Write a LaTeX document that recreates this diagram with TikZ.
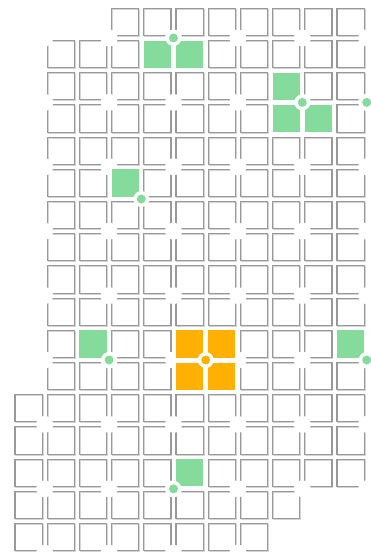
\documentclass[tikz,border=0pt]{standalone}
\definecolor{cellgreen}{HTML}{84DB9C}
\definecolor{cellorange}{HTML}{FFB000}
\definecolor{edgegray}{HTML}{999999}
\definecolor{shadowgray}{HTML}{D4D4D4}
\tikzset{
  cellbox/.style={draw=edgegray, line width=1.1pt},
  cellshadow/.style={draw=shadowgray, line width=1.1pt},
  blob/.style={fill=white},
  greencell/.style={fill=cellgreen},
  orangecell/.style={fill=cellorange},
  ringwhite/.style={fill=white},
}
\begin{document}
\begin{tikzpicture}[x=1pt,y=-1pt]
\useasboundingbox (0,0) rectangle (371,552);
\def\pitch{32.2}
\def\cs{27.2}
\def\ox{15}
\def\oy{8.3}
% gray cells
\foreach \r/\a/\b in {0/3/10,1/1/10,2/1/10,3/1/10,4/1/10,5/1/10,6/1/10,7/1/10,8/1/10,9/1/10,10/1/10,11/1/10,12/0/10,13/0/10,14/0/10,15/0/8,16/0/7}{
  \foreach \c in {\a,...,\b}{
    \draw[cellshadow] (\ox+\c*\pitch+0.9,\oy+\r*\pitch+0.9) rectangle (\ox+\c*\pitch+\cs+0.9,\oy+\r*\pitch+\cs+0.9);
    \draw[cellbox] (\ox+\c*\pitch,\oy+\r*\pitch) rectangle (\ox+\c*\pitch+\cs,\oy+\r*\pitch+\cs);
  }
}
% white blobs at every other vertex
\foreach \i in {1,3,...,11}{
  \foreach \j in {1,3,...,17}{
    \fill[blob] (\ox+\i*\pitch-2.5,\oy+\j*\pitch-2.5) circle (8.5pt);
  }
}
% coloured cells
\foreach \c/\r/\s in {4/1/greencell,5/1/greencell,8/2/greencell,8/3/greencell,9/3/greencell,3/5/greencell,2/10/greencell,10/10/greencell,5/14/greencell,5/10/orangecell,6/10/orangecell,5/11/orangecell,6/11/orangecell}{
  \fill[white] (\ox+\c*\pitch-1.5,\oy+\r*\pitch-1.5) rectangle (\ox+\c*\pitch+\cs+2,\oy+\r*\pitch+\cs+2);
  \fill[\s] (\ox+\c*\pitch,\oy+\r*\pitch) rectangle (\ox+\c*\pitch+\cs,\oy+\r*\pitch+\cs);
}
% dots
\foreach \i/\j/\col in {5/1/cellgreen,9/3/cellgreen,11/3/cellgreen,4/6/cellgreen,3/11/cellgreen,11/11/cellgreen,5/15/cellgreen,6/11/cellorange}{
  \coordinate (dot-\i-\j) at (\ox+\i*\pitch-2.5,\oy+\j*\pitch-2.5);
  \fill[ringwhite] (dot-\i-\j) circle (8pt);
  \fill[\col] (dot-\i-\j) circle (4.5pt);
}
\end{tikzpicture}
\end{document}
